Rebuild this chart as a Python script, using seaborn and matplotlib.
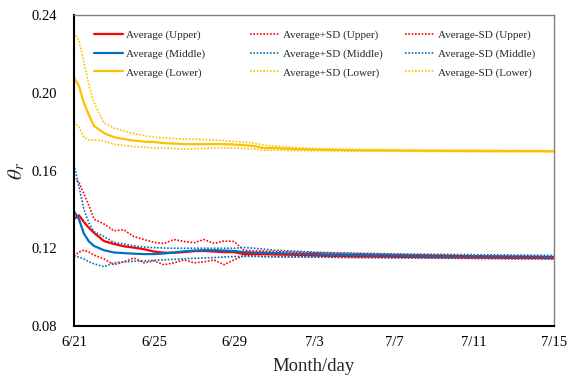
import numpy as np
import pandas as pd
import matplotlib
matplotlib.use("Agg")
import matplotlib.pyplot as plt
import seaborn as sns

# days after 6/21
days = [0, 0.25, 0.5, 0.75, 1, 1.5, 2, 2.5, 3, 3.5, 4, 4.5, 5, 5.5, 6, 6.5, 7, 7.5, 8, 8.5,
        9, 9.5, 10, 11, 12, 13, 14, 15, 16, 17, 18, 19, 20, 21, 22, 23, 24]

avg_upper = [0.135, 0.137, 0.1335, 0.1305, 0.128, 0.1237, 0.1222, 0.121, 0.1203, 0.1195, 0.1183,
             0.1177, 0.1177, 0.118, 0.1185, 0.1186, 0.1183, 0.118, 0.118, 0.117, 0.117, 0.117,
             0.1168, 0.1166, 0.1163, 0.116, 0.1158, 0.1157, 0.1156, 0.1155, 0.1154, 0.1153,
             0.1152, 0.1151, 0.115, 0.115, 0.1149]
avg_middle = [0.139, 0.135, 0.1275, 0.1235, 0.1212, 0.119, 0.1178, 0.1175, 0.1172, 0.117, 0.117,
              0.1173, 0.1178, 0.1184, 0.1188, 0.119, 0.119, 0.1188, 0.1186, 0.118, 0.1178, 0.1177,
              0.1175, 0.1172, 0.117, 0.1167, 0.1165, 0.1164, 0.1163, 0.1162, 0.1161, 0.116,
              0.1159, 0.1158, 0.1157, 0.1156, 0.1155]
avg_lower = [0.208, 0.2035, 0.1947, 0.1886, 0.183, 0.1793, 0.1772, 0.1762, 0.1754, 0.1749, 0.1747,
             0.1741, 0.1739, 0.1736, 0.1736, 0.1736, 0.1736, 0.1736, 0.1734, 0.1731, 0.1726, 0.1716,
             0.1716, 0.1711, 0.1708, 0.1706, 0.1705, 0.1704, 0.1703, 0.1702, 0.1702, 0.1701,
             0.1701, 0.17, 0.17, 0.17, 0.1699]

plus_upper = [0.156, 0.154, 0.148, 0.142, 0.135, 0.1325, 0.129, 0.1295, 0.126, 0.1245, 0.123,
              0.1225, 0.1245, 0.1235, 0.1228, 0.1245, 0.1225, 0.1237, 0.1235, 0.119, 0.1187, 0.1185,
              0.1183, 0.118, 0.1177, 0.1174, 0.1172, 0.117, 0.1168, 0.1166, 0.1164, 0.1162,
              0.116, 0.1159, 0.1158, 0.1157, 0.1156]
plus_middle = [0.163, 0.152, 0.14, 0.133, 0.1285, 0.126, 0.123, 0.1222, 0.1212, 0.1206, 0.1203,
               0.1201, 0.12, 0.12, 0.12, 0.12, 0.12, 0.12, 0.12, 0.1204, 0.12, 0.1195,
               0.119, 0.1185, 0.118, 0.1177, 0.1175, 0.1173, 0.1171, 0.117, 0.1169, 0.1168,
               0.1167, 0.1166, 0.1165, 0.1164, 0.1163]
plus_lower = [0.231, 0.227, 0.2158, 0.204, 0.195, 0.1845, 0.1819, 0.1803, 0.179, 0.178, 0.1772,
              0.1767, 0.1765, 0.1762, 0.1762, 0.176, 0.1757, 0.1754, 0.1749, 0.1747, 0.1741, 0.1731,
              0.1726, 0.1718, 0.1713, 0.1711, 0.1709, 0.1708, 0.1707, 0.1706, 0.1705, 0.1705,
              0.1704, 0.1704, 0.1703, 0.1703, 0.1703]

minus_upper = [0.116, 0.118, 0.119, 0.118, 0.1165, 0.1145, 0.1115, 0.113, 0.115, 0.1125, 0.1135,
               0.1115, 0.1125, 0.114, 0.1125, 0.113, 0.114, 0.1115, 0.114, 0.1163, 0.116, 0.1158,
               0.1157, 0.1156, 0.1155, 0.1154, 0.1153, 0.1152, 0.1151, 0.115, 0.1149, 0.1148,
               0.1147, 0.1146, 0.1145, 0.1145, 0.1144]
minus_middle = [0.116, 0.1155, 0.1145, 0.113, 0.112, 0.1105, 0.1125, 0.113, 0.1133, 0.1135, 0.1138,
                0.114, 0.1143, 0.1146, 0.1148, 0.115, 0.1152, 0.1155, 0.1157, 0.1158, 0.1158, 0.1157,
                0.1156, 0.1155, 0.1154, 0.1153, 0.1152, 0.1152, 0.1151, 0.1151, 0.115, 0.115,
                0.1149, 0.1149, 0.1148, 0.1148, 0.1147]
minus_lower = [0.185, 0.1824, 0.1772, 0.1757, 0.1757, 0.1752, 0.1736, 0.1729, 0.1723, 0.1721, 0.1716,
               0.1716, 0.1713, 0.1711, 0.1711, 0.1713, 0.1716, 0.1716, 0.1716, 0.1713, 0.1711, 0.1705,
               0.1705, 0.1703, 0.1702, 0.1701, 0.17, 0.17, 0.1699, 0.1699, 0.1698, 0.1698,
               0.1697, 0.1697, 0.1697, 0.1697, 0.1697]

tick_days = [0, 4, 8, 12, 16, 20, 24]
tick_labels = ["6/21", "6/25", "6/29", "7/3", "7/7", "7/11", "7/15"]

sns.set_style("white")
plt.rcParams['font.family'] = ['Liberation Serif', 'DejaVu Serif']
plt.rcParams['mathtext.fontset'] = 'stix'

colors = {"Upper": "#FF0000", "Middle": "#0070C0", "Lower": "#FFC000"}
series = [
    ("Average", {"Upper": avg_upper, "Middle": avg_middle, "Lower": avg_lower}, "-", 1.6),
    ("Average+SD", {"Upper": plus_upper, "Middle": plus_middle, "Lower": plus_lower}, (0, (1, 1)), 1.2),
    ("Average-SD", {"Upper": minus_upper, "Middle": minus_middle, "Lower": minus_lower}, (0, (1, 1)), 1.2),
]

fig = plt.figure(figsize=(5.73, 3.79), dpi=100)
ax = fig.add_axes([0.129, 0.140, 0.838, 0.820])

groups = []
for name, vals, ls, lw in series:
    lines = []
    for layer in ["Upper", "Middle", "Lower"]:
        sns.lineplot(x=days, y=vals[layer], ax=ax, color=colors[layer], linestyle=ls,
                     linewidth=lw, label=f"{name} ({layer})", legend=False)
        lines.append(ax.lines[-1])
    groups.append(lines)

ax.set_xlim(0, 24)
ax.set_ylim(0.08, 0.24)
ax.set_xticks(tick_days)
ax.set_xticklabels(tick_labels)
ax.set_yticks([0.08, 0.12, 0.16, 0.20, 0.24])
ax.set_yticklabels(["0.08", "0.12", "0.16", "0.20", "0.24"])
ax.tick_params(axis='both', direction='out', length=5, width=1, labelsize=10.5, colors='black')
ax.tick_params(axis='y', pad=7)
ax.tick_params(axis='x', pad=2)

for side in ['left', 'bottom']:
    ax.spines[side].set_color('black')
    ax.spines[side].set_linewidth(1.5)
for side in ['top', 'right']:
    ax.spines[side].set_color('#808080')
    ax.spines[side].set_linewidth(1.0)

ax.set_xlabel("Month/day", fontsize=13.5, labelpad=7)
ax.set_ylabel(r"$\theta_r$", fontsize=15, labelpad=3)

# three legend columns placed like the original
col_x = [0.025, 0.350, 0.673]
legs = []
for lines, x0 in zip(groups, col_x):
    leg = ax.legend(handles=lines, loc='upper left', bbox_to_anchor=(x0, 0.978), frameon=False,
                    fontsize=8, handlelength=2.6, handletextpad=0.35, labelspacing=0.8,
                    borderpad=0.2)
    legs.append(leg)
for leg in legs[:-1]:
    ax.add_artist(leg)

plt.savefig("out.png", dpi=100)
